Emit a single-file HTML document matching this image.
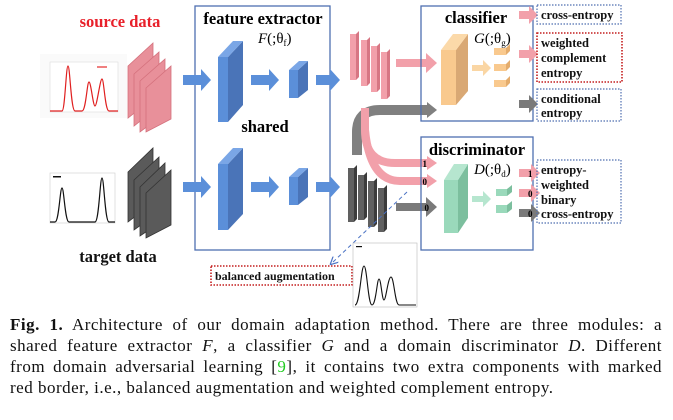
<!DOCTYPE html>
<html><head><meta charset="utf-8"><style>
body{margin:0;background:#fff;width:673px;height:420px;overflow:hidden;position:relative}
svg{position:absolute;left:0;top:0}
.cap{position:absolute;left:10px;top:314px;width:652px;font-family:"Liberation Serif",serif;font-size:17px;letter-spacing:0.5px;line-height:21px;color:#111}
.cap div{text-align:justify;text-align-last:justify;white-space:nowrap}
.cap div.l{text-align-last:left}
</style></head><body>
<svg width="673" height="310" viewBox="0 0 673 310" font-family="Liberation Serif, serif">
<defs>
<marker id="ah" markerWidth="8" markerHeight="8" refX="4" refY="4" orient="auto"><path d="M0,0 L8,4 L0,8" fill="none" stroke="#4a72c4" stroke-width="1.2"/></marker>
</defs>
<text x="120" y="27" font-size="16.5" font-weight="bold" fill="#e8202a" text-anchor="middle">source data</text>
<text x="118" y="262" font-size="16.5" font-weight="bold" fill="#111" text-anchor="middle">target data</text>
<rect x="40" y="54" width="87" height="64" fill="#fafafa"/>
<rect x="50" y="62" width="68" height="50" fill="#fff" stroke="#ddd" stroke-width="0.6"/>
<path d="M50,111 L62,111 C65,111 66,66 68,66 C70,66 71,111 75,111 L82,111 C86,111 87,82 89,82 C91,82 93,106 95,106 C97,106 100,79 102,79 C104,79 105,111 109,111 L118,111" fill="none" stroke="#e02020" stroke-width="1.2"/>
<rect x="97" y="66" width="10" height="2" fill="#f08080"/>
<rect x="50" y="173" width="65" height="50" fill="#fff" stroke="#ccc" stroke-width="0.6"/>
<path d="M50,222 L55,222 C59,222 60,188 62,188 C64,188 65,222 69,222 L95,222 C99,222 100,178 102,178 C104,178 105,222 109,222 L115,222" fill="none" stroke="#111" stroke-width="1.2"/>
<rect x="53" y="176" width="8" height="1.5" fill="#111"/>
<g fill="#e8909a" stroke="#d4707c" stroke-width="0.8">
<polygon points="128,66 153,43 153,98 128,118"/>
<polygon points="134,74 159,52 159,106 134,126"/>
<polygon points="140,81 165,59 165,113 140,132"/>
<polygon points="146,88 171,66 171,119 146,132"/>
</g>
<g fill="#5a5a5a" stroke="#333" stroke-width="0.8">
<polygon points="128,172 153,148 153,203 128,222"/>
<polygon points="134,180 159,157 159,212 134,230"/>
<polygon points="140,187 165,163 165,219 140,236"/>
<polygon points="146,193 171,170 171,225 146,238"/>
</g>
<rect x="195" y="6" width="135" height="244" fill="none" stroke="#4f6fb0" stroke-width="1.3"/>
<text x="263" y="24" font-size="16.5" font-weight="bold" text-anchor="middle">feature extractor</text>
<text x="258" y="43" font-size="15" font-style="italic">F<tspan font-style="normal">(;θ</tspan><tspan font-style="normal" font-size="9" dy="3">f</tspan><tspan font-style="normal" dy="-3">)</tspan></text>
<text x="265" y="132" font-size="16.5" font-weight="bold" text-anchor="middle">shared</text>
<g fill="#5b8fd9">
<path d="M183,75 h18 v-6 l10,11 l-10,11 v-6 h-18z"/>
<path d="M251,75 h18 v-6 l10,11 l-10,11 v-6 h-18z"/>
<path d="M316,75 h14 v-6 l10,11 l-10,11 v-6 h-14z"/>
<path d="M183,182 h18 v-6 l10,11 l-10,11 v-6 h-18z"/>
<path d="M251,182 h18 v-6 l10,11 l-10,11 v-6 h-18z"/>
<path d="M316,182 h14 v-6 l10,11 l-10,11 v-6 h-14z"/>
</g>
<g>
<polygon points="218,57 228,57 228,122 218,122" fill="#5b8fd9"/>
<polygon points="228,57 243,41 243,105 228,122" fill="#4a74b8"/>
<polygon points="218,57 233,41 243,41 228,57" fill="#7aa6e6"/>
<polygon points="289,70 298,70 298,98 289,98" fill="#5b8fd9"/>
<polygon points="298,70 308,61 308,90 298,98" fill="#4a74b8"/>
<polygon points="289,70 299,61 308,61 298,70" fill="#7aa6e6"/>
<polygon points="218,164 228,164 228,230 218,230" fill="#5b8fd9"/>
<polygon points="228,164 243,148 243,214 228,230" fill="#4a74b8"/>
<polygon points="218,164 233,148 243,148 228,164" fill="#7aa6e6"/>
<polygon points="289,177 298,177 298,205 289,205" fill="#5b8fd9"/>
<polygon points="298,177 308,168 308,197 298,205" fill="#4a74b8"/>
<polygon points="289,177 299,168 308,168 298,177" fill="#7aa6e6"/>
</g>
<g>
<rect x="350" y="34" width="6" height="46" fill="#f2a0aa"/><polygon points="356,34 359,31 359,77 356,80" fill="#d77683"/>
<rect x="361" y="40" width="6" height="46" fill="#f2a0aa"/><polygon points="367,40 370,37 370,83 367,86" fill="#d77683"/>
<rect x="371" y="46" width="6" height="46" fill="#f2a0aa"/><polygon points="377,46 380,43 380,89 377,92" fill="#d77683"/>
<rect x="381" y="52" width="6" height="47" fill="#f2a0aa"/><polygon points="387,52 390,49 390,96 387,99" fill="#d77683"/>
</g>
<g>
<rect x="348" y="168" width="6" height="54" fill="#606060"/><polygon points="354,168 357,165 357,219 354,222" fill="#3c3c3c"/>
<rect x="358" y="175" width="6" height="45" fill="#606060"/><polygon points="364,175 367,172 367,217 364,220" fill="#3c3c3c"/>
<rect x="368" y="181" width="6" height="46" fill="#606060"/><polygon points="374,181 377,178 377,224 374,227" fill="#3c3c3c"/>
<rect x="378" y="188" width="6" height="44" fill="#606060"/><polygon points="384,188 387,185 387,229 384,232" fill="#3c3c3c"/>
</g>
<path d="M357,155 V132 Q357,110 380,110 H428" fill="none" stroke="#808080" stroke-width="10"/>
<path d="M427,102 l10,8 l-10,8z" fill="#808080"/>
<path d="M365,108 V130 Q365,163 395,163 H428" fill="none" stroke="#f2a0aa" stroke-width="8"/>
<path d="M365,130 Q370,181 400,181 H428" fill="none" stroke="#f2a0aa" stroke-width="8"/>
<path d="M427,156 l10,7 l-10,7z M427,174 l10,7 l-10,7z" fill="#f2a0aa"/>
<text x="427" y="167" font-size="9" font-weight="bold" text-anchor="end">1</text>
<text x="427" y="185" font-size="9" font-weight="bold" text-anchor="end">0</text>
<path d="M396,59 h30 v-6 l11,10 l-11,10 v-6 h-30z" fill="#f2a0aa"/>
<path d="M396,203 h30 v-6 l11,10 l-11,10 v-6 h-30z" fill="#7a7a7a"/>
<text x="429" y="211" font-size="9" font-weight="bold" text-anchor="end">0</text>
<rect x="421" y="6" width="112" height="115" fill="none" stroke="#4f6fb0" stroke-width="1.3"/>
<text x="476" y="23" font-size="16.5" font-weight="bold" text-anchor="middle">classifier</text>
<text x="474" y="43" font-size="15" font-style="italic">G<tspan font-style="normal">(;θ</tspan><tspan font-style="normal" font-size="9" dy="3">g</tspan><tspan font-style="normal" dy="-3">)</tspan></text>
<polygon points="441,50 456,50 456,105 441,105" fill="#f9c98e"/>
<polygon points="456,50 468,34 468,91 456,105" fill="#d9a874"/>
<polygon points="441,50 453,34 468,34 456,50" fill="#fbd9a9"/>
<path d="M472,65 h11 v-5 l8,8 l-8,8 v-5 h-11z" fill="#fad6a4"/>
<g fill="#f9c98e"><rect x="494" y="48" width="12" height="7"/><rect x="494" y="64" width="12" height="7"/><rect x="494" y="80" width="12" height="7"/></g>
<g fill="#e4ac6c"><polygon points="506,48 510,44 510,51 506,55"/><polygon points="506,64 510,60 510,67 506,71"/><polygon points="506,80 510,76 510,83 506,87"/></g>
<rect x="421" y="137" width="112" height="113" fill="none" stroke="#4f6fb0" stroke-width="1.3"/>
<text x="477" y="155" font-size="16.5" font-weight="bold" text-anchor="middle">discriminator</text>
<text x="474" y="174" font-size="15" font-style="italic">D<tspan font-style="normal">(;θ</tspan><tspan font-style="normal" font-size="9" dy="3">d</tspan><tspan font-style="normal" dy="-3">)</tspan></text>
<polygon points="444,180 458,180 458,233 444,233" fill="#9ad9bb"/>
<polygon points="458,180 468,164 468,218 458,233" fill="#7cbf9e"/>
<polygon points="444,180 454,164 468,164 458,180" fill="#b6e6cf"/>
<path d="M472,196 h11 v-5 l8,8 l-8,8 v-5 h-11z" fill="#b6e6cf"/>
<g fill="#9ad9bb"><rect x="496" y="189" width="11" height="7"/><rect x="496" y="205" width="11" height="8"/></g>
<g fill="#7cbf9e"><polygon points="507,189 512,185 512,192 507,196"/><polygon points="507,205 512,201 512,209 507,213"/></g>
<path d="M519,11 h10 v-5 l9,9 l-9,9 v-5 h-10z" fill="#f2a0aa"/>
<path d="M519,50 h10 v-5 l9,9 l-9,9 v-5 h-10z" fill="#f2a0aa"/>
<path d="M519,100 h10 v-5 l9,9 l-9,9 v-5 h-10z" fill="#7a7a7a"/>
<path d="M519,169 h12 v-5 l9,9 l-9,9 v-5 h-12z" fill="#f2a0aa"/>
<path d="M519,189 h12 v-5 l9,9 l-9,9 v-5 h-12z" fill="#f2a0aa"/>
<path d="M519,209 h12 v-5 l9,9 l-9,9 v-5 h-12z" fill="#7a7a7a"/>
<g font-size="9" font-weight="bold"><text x="528" y="177">1</text><text x="528" y="197">0</text><text x="528" y="217">0</text></g>
<g fill="none" stroke-width="1.2" stroke-dasharray="1.5,1.5">
<rect x="537" y="5" width="84" height="19" stroke="#4f6fb0"/>
<rect x="537" y="33" width="85" height="49" stroke="#c41e1e" stroke-width="1.6"/>
<rect x="537" y="89" width="84" height="32" stroke="#4f6fb0"/>
<rect x="537" y="160" width="84" height="63" stroke="#4f6fb0"/>
<rect x="211" y="266" width="141" height="19" stroke="#c41e1e" stroke-width="1.6"/>
</g>
<g font-size="12.5" font-weight="bold" fill="#111">
<text x="541" y="19">cross-entropy</text>
<text x="541" y="47">weighted</text><text x="541" y="62">complement</text><text x="541" y="77">entropy</text>
<text x="541" y="103">conditional</text><text x="541" y="117">entropy</text>
<text x="541" y="174">entropy-</text><text x="541" y="189">weighted</text><text x="541" y="204">binary</text><text x="541" y="218">cross-entropy</text>
<text x="215" y="280" font-size="12">balanced augmentation</text>
</g>
<line x1="407" y1="192" x2="333" y2="262" stroke="#4a72c4" stroke-width="1" stroke-dasharray="4,3" marker-end="url(#ah)"/>
<rect x="353" y="243" width="64" height="64" fill="#fff" stroke="#bbb" stroke-width="0.6"/>
<rect x="356" y="246" width="6" height="1.2" fill="#111"/>
<path d="M355,305 C360,305 361,266 364,266 C367,266 368,305 372,305 C376,305 377,279 379,279 C381,279 382,300 384,300 C386,300 388,277 391,277 C394,277 395,305 399,305 L416,305" fill="none" stroke="#111" stroke-width="1.1"/>
</svg>
<div class="cap">
<div><b>Fig. 1.</b> Architecture of our domain adaptation method. There are three modules: a</div>
<div>shared feature extractor <i>F</i>, a classifier <i>G</i> and a domain discriminator <i>D</i>. Different</div>
<div>from domain adversarial learning [<span style="color:#22cc22">9</span>], it contains two extra components with marked</div>
<div class="l">red border, i.e., balanced augmentation and weighted complement entropy.</div>
</div>
</body></html>
